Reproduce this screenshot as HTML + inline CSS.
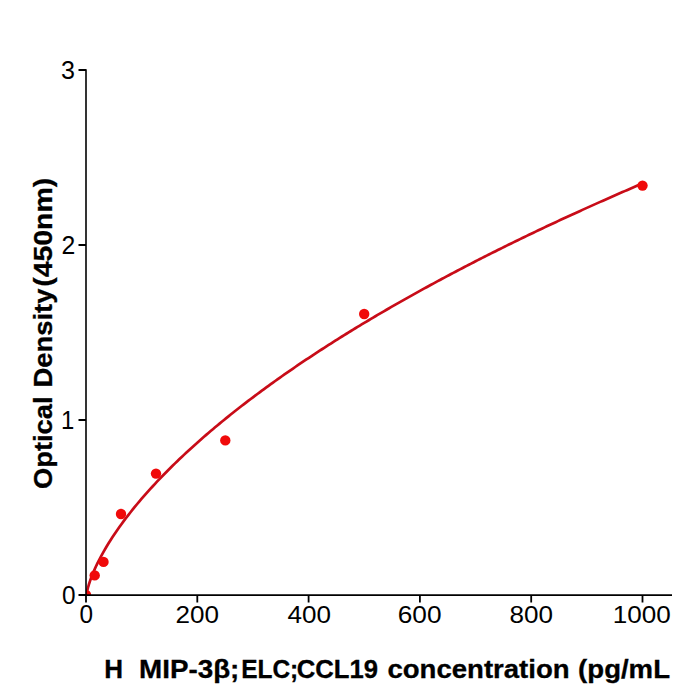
<!DOCTYPE html>
<html><head><meta charset="utf-8">
<style>
html,body{margin:0;padding:0;background:#fff;}
body{width:700px;height:700px;overflow:hidden;}
svg{display:block;}
text{font-family:"Liberation Sans",sans-serif;fill:#000;}
.r{font-size:25px;}
.b{font-size:25px;font-weight:bold;stroke:#000;stroke-width:0.3px;}
</style></head><body>
<svg width="700" height="700" viewBox="0 0 700 700">
<defs><clipPath id="ax"><rect x="86" y="70" width="586" height="525"/></clipPath></defs>
<rect width="700" height="700" fill="#fff"/>
<g clip-path="url(#ax)">
<path d="M86.00,598.55 L86.06,597.56 L86.11,596.98 L86.17,596.48 L86.22,596.04 L86.28,595.63 L86.33,595.25 L86.39,594.89 L86.45,594.55 L86.50,594.22 L86.56,593.90 L86.83,592.45 L87.11,591.14 L87.39,589.95 L87.67,588.82 L87.95,587.76 L88.23,586.75 L88.50,585.78 L88.78,584.85 L89.06,583.95 L89.34,583.07 L89.62,582.22 L89.90,581.39 L90.17,580.58 L90.45,579.78 L90.73,579.01 L91.01,578.24 L91.29,577.50 L91.56,576.76 L91.84,576.04 L92.12,575.33 L92.40,574.63 L92.68,573.94 L92.96,573.26 L93.23,572.59 L93.51,571.93 L93.79,571.28 L94.07,570.63 L94.35,569.99 L94.63,569.36 L94.90,568.74 L95.18,568.12 L95.46,567.51 L95.74,566.90 L96.02,566.30 L96.30,565.71 L96.57,565.12 L96.85,564.54 L97.13,563.96 L99.36,559.51 L101.58,555.30 L103.81,551.30 L106.03,547.47 L108.26,543.79 L110.49,540.24 L112.71,536.79 L114.94,533.45 L117.16,530.21 L119.39,527.04 L121.62,523.95 L123.84,520.92 L126.07,517.97 L128.29,515.07 L130.52,512.23 L132.75,509.43 L134.97,506.69 L137.20,504.00 L139.42,501.34 L141.65,498.73 L143.88,496.16 L146.10,493.62 L148.33,491.12 L150.55,488.65 L152.78,486.22 L155.01,483.81 L157.23,481.44 L159.46,479.09 L161.68,476.77 L163.91,474.48 L166.14,472.21 L168.36,469.97 L170.59,467.75 L172.81,465.55 L175.04,463.37 L177.27,461.22 L179.49,459.09 L181.72,456.97 L183.94,454.88 L186.17,452.80 L188.40,450.74 L190.62,448.70 L192.85,446.68 L195.07,444.68 L197.30,442.69 L199.53,440.71 L201.75,438.75 L203.98,436.81 L206.20,434.88 L208.43,432.97 L210.66,431.07 L212.88,429.19 L215.11,427.31 L217.33,425.45 L219.56,423.61 L221.79,421.78 L224.01,419.95 L226.24,418.15 L228.46,416.35 L230.69,414.56 L232.92,412.79 L235.14,411.03 L237.37,409.27 L239.59,407.53 L241.82,405.80 L244.05,404.08 L246.27,402.37 L248.50,400.67 L250.72,398.98 L252.95,397.30 L255.18,395.63 L257.40,393.97 L259.63,392.31 L261.85,390.67 L264.08,389.04 L266.31,387.41 L268.53,385.79 L270.76,384.18 L272.98,382.58 L275.21,380.99 L277.44,379.40 L279.66,377.83 L281.89,376.26 L284.11,374.70 L286.34,373.15 L288.57,371.60 L290.79,370.06 L293.02,368.53 L295.24,367.01 L297.47,365.49 L299.70,363.98 L301.92,362.48 L304.15,360.98 L306.37,359.49 L308.60,358.01 L310.83,356.53 L313.05,355.06 L315.28,353.60 L317.50,352.14 L319.73,350.69 L321.96,349.25 L324.18,347.81 L326.41,346.38 L328.63,344.95 L330.86,343.53 L333.09,342.12 L335.31,340.71 L337.54,339.30 L339.76,337.90 L341.99,336.51 L344.22,335.13 L346.44,333.74 L348.67,332.37 L350.89,331.00 L353.12,329.63 L355.35,328.27 L357.57,326.92 L359.80,325.57 L362.02,324.22 L364.25,322.88 L366.48,321.55 L368.70,320.22 L370.93,318.89 L373.15,317.57 L375.38,316.26 L377.61,314.94 L379.83,313.64 L382.06,312.34 L384.28,311.04 L386.51,309.75 L388.74,308.46 L390.96,307.17 L393.19,305.89 L395.41,304.62 L397.64,303.35 L399.87,302.08 L402.09,300.82 L404.32,299.56 L406.54,298.31 L408.77,297.06 L411.00,295.81 L413.22,294.57 L415.45,293.33 L417.67,292.10 L419.90,290.87 L422.13,289.64 L424.35,288.42 L426.58,287.20 L428.80,285.98 L431.03,284.77 L433.26,283.57 L435.48,282.36 L437.71,281.16 L439.93,279.97 L442.16,278.78 L444.39,277.59 L446.61,276.40 L448.84,275.22 L451.06,274.04 L453.29,272.87 L455.52,271.69 L457.74,270.53 L459.97,269.36 L462.19,268.20 L464.42,267.04 L466.65,265.89 L468.87,264.74 L471.10,263.59 L473.32,262.44 L475.55,261.30 L477.78,260.16 L480.00,259.03 L482.23,257.90 L484.45,256.77 L486.68,255.64 L488.91,254.52 L491.13,253.40 L493.36,252.28 L495.58,251.17 L497.81,250.06 L500.04,248.95 L502.26,247.85 L504.49,246.75 L506.71,245.65 L508.94,244.55 L511.17,243.46 L513.39,242.37 L515.62,241.28 L517.84,240.20 L520.07,239.11 L522.30,238.03 L524.52,236.96 L526.75,235.89 L528.97,234.81 L531.20,233.75 L533.43,232.68 L535.65,231.62 L537.88,230.56 L540.10,229.50 L542.33,228.45 L544.56,227.39 L546.78,226.34 L549.01,225.30 L551.23,224.25 L553.46,223.21 L555.69,222.17 L557.91,221.13 L560.14,220.10 L562.36,219.07 L564.59,218.04 L566.82,217.01 L569.04,215.99 L571.27,214.96 L573.49,213.94 L575.72,212.93 L577.95,211.91 L580.17,210.90 L582.40,209.89 L584.62,208.88 L586.85,207.88 L589.08,206.87 L591.30,205.87 L593.53,204.87 L595.75,203.88 L597.98,202.88 L600.21,201.89 L602.43,200.90 L604.66,199.91 L606.88,198.93 L609.11,197.94 L611.34,196.96 L613.56,195.98 L615.79,195.01 L618.01,194.03 L620.24,193.06 L622.47,192.09 L624.69,191.12 L626.92,190.16 L629.14,189.19 L631.37,188.23 L633.60,187.27 L635.82,186.31 L638.05,185.36 L640.27,184.40 L642.50,183.45" fill="none" stroke="#c80c18" stroke-width="2.7" stroke-linejoin="round"/>
<g fill="#f00a0a">
<circle cx="86" cy="595" r="5.2"/>
<circle cx="94.7" cy="575.4" r="5.2"/>
<circle cx="103.5" cy="561.9" r="5.2"/>
<circle cx="121" cy="514" r="5.2"/>
<circle cx="156" cy="473.6" r="5.2"/>
<circle cx="225.3" cy="440.4" r="5.2"/>
<circle cx="364.2" cy="314" r="5.2"/>
<circle cx="642.5" cy="185.6" r="5.2"/>
</g>
</g>
<g stroke="#000" stroke-width="1.6" fill="none" stroke-linecap="butt">
<path d="M86,69.2 V595.8"/><path stroke-width="1.75" d="M85.2,595 H672"/>
<path stroke-width="1.8" d="M78.5,70 H86 M78.5,245 H86 M78.5,420 H86 M78.5,595 H86"/>
<path stroke-width="1.8" d="M86,595 V602.5 M197.3,595 V602.5 M308.6,595 V602.5 M419.9,595 V602.5 M531.2,595 V602.5 M642.5,595 V602.5"/>
</g>
<text class="r" transform="matrix(0.9750,0,0,1.0028,61.92,603.65)">0</text>
<text class="r" transform="matrix(0.9581,0,0,1.0087,60.98,428.70)">1</text>
<text class="r" transform="matrix(0.9913,0,0,1.0114,61.46,253.90)">2</text>
<text class="r" transform="matrix(1.0043,0,0,1.0085,61.10,78.55)">3</text>
<text class="r" transform="matrix(0.9750,0,0,0.9972,79.43,623.35)">0</text>
<text class="r" transform="matrix(1.0430,0,0,0.9915,175.50,623.25)">200</text>
<text class="r" transform="matrix(1.0435,0,0,0.9915,287.48,623.25)">400</text>
<text class="r" transform="matrix(1.0506,0,0,0.9915,397.69,623.25)">600</text>
<text class="r" transform="matrix(1.0440,0,0,0.9915,509.46,623.25)">800</text>
<text class="r" transform="matrix(1.0438,0,0,0.9915,612.81,623.25)">1000</text>
<text class="b" transform="matrix(1.0414,0,0,1.0435,104.18,678)">H</text>
<text class="b" transform="matrix(1.1119,0,0,1.0435,139.05,678)">MIP-3β;</text>
<text class="b" transform="matrix(0.9788,0,0,1.0435,241.19,678)">ELC;</text>
<text class="b" transform="matrix(1.0265,0,0,1.0435,296.67,678)">CCL19</text>
<text class="b" transform="matrix(1.1029,0,0,1.0435,387.40,678)">concentration</text>
<text class="b" transform="matrix(1.1028,0,0,1.0435,578.12,678)">(pg/mL</text>
<text class="b" transform="matrix(0,-1.0927,1.0261,0,51.70,488.99)">Optical</text>
<text class="b" transform="matrix(0,-1.0969,1.0261,0,51.70,387.62)">Density</text>
<text class="b" transform="matrix(0,-1.1380,1.0261,0,51.70,286.82)">(450nm)</text>
</svg>
</body></html>
